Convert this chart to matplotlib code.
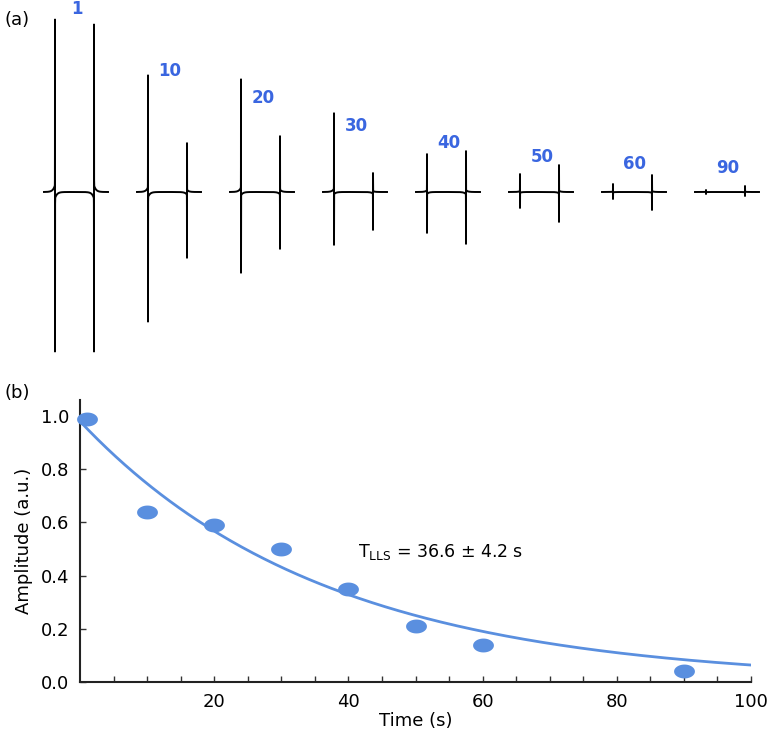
import numpy as np
import matplotlib
matplotlib.use("Agg")
import matplotlib.pyplot as plt
from matplotlib.path import Path

# (a) espectros: tempo, altura dos dois picos (sobe / desce)
tempos = [1, 10, 20, 30, 40, 50, 60, 90]
pico1_sobe = [173, 117, 113, 79, 38, 18, 8, 2]
pico1_desce = [160, 130, 81, 53, 41, 16, 7, 2]
pico2_sobe = [168, 49, 56, 19, 41, 27, 17, 6]
pico2_desce = [160, 66, 57, 38, 52, 30, 18, 4]
rotulo_altura = [183, 121, 94, 66, 49, 35, 28, 24]

# (b) amplitudes
t_pts = [1, 10, 20, 30, 40, 50, 60, 90]
amp_pts = [0.99, 0.64, 0.59, 0.50, 0.35, 0.21, 0.14, 0.04]
fit_A = 0.98
fit_T = 36.6

azul_txt = "#3a66e0"
azul = "#5a8fdf"

fig = plt.figure(figsize=(7.68, 7.34), dpi=100)

# ---- painel (a) ----
ax1 = fig.add_axes([0, 1 - 360 / 734, 1, 360 / 734])
ax1.set_xlim(-44, 724)
ax1.set_ylim(-168, 192)
ax1.axis("off")

largura = 64
espaco = 93
w = 0.03


def linha(x, x0, sobe, desce, fase):
    # pico dispersivo estreito com cauda curta
    d = x - x0
    L = -fase * np.sign(d) * (0.96 * np.exp(-np.abs(d) / w) + 0.04 * np.exp(-np.abs(d) / 2.0))
    return np.where(L > 0, sobe * L, desce * L)


for k, t in enumerate(tempos):
    x0 = k * espaco
    p1, p2 = 11, 50
    x = np.sort(np.concatenate([np.linspace(0, largura, 1281),
                                [p1 - 1e-4, p1 + 1e-4, p2 - 1e-4, p2 + 1e-4]]))
    y = linha(x, p1, pico1_sobe[k], pico1_desce[k], 1) + \
        linha(x, p2, pico2_sobe[k], pico2_desce[k], -1)
    ax1.plot(x0 + x, y, color="black", lw=1.4)
    ax1.text(x0 + 33, rotulo_altura[k], str(t), color=azul_txt,
             fontsize=12, fontweight="bold", ha="center", va="center")

fig.text(5 / 768, 1 - 20 / 734, "(a)", fontsize=13, va="center")
fig.text(4 / 768, 1 - 393 / 734, "(b)", fontsize=13, va="center")

# ---- painel (b) ----
ax2 = fig.add_axes([80 / 768, 52 / 734, 671 / 768, 282 / 734])
ax2.set_xlim(0, 100)
ax2.set_ylim(0, 1.06)

tt = np.linspace(0, 100, 300)
ax2.plot(tt, fit_A * np.exp(-tt / fit_T), color=azul, lw=2)

theta = np.linspace(0, 2 * np.pi, 60)
elipse = Path(np.column_stack([1.5 * np.cos(theta), np.sin(theta)]), closed=True)
ax2.plot(t_pts, amp_pts, linestyle="none", marker=elipse, ms=15,
         color=azul, mec="none", zorder=3, clip_on=False)

ax2.text(41.5, 0.49, r"T$_{\mathrm{LLS}}$ = 36.6 ± 4.2 s", fontsize=12.5,
         va="center")

ax2.set_xticks([20, 40, 60, 80, 100])
ax2.set_xticks(np.arange(5, 100, 5), minor=True)
ax2.set_yticks([0, 0.2, 0.4, 0.6, 0.8, 1.0])
ax2.set_yticklabels(["0.0", "0.2", "0.4", "0.6", "0.8", "1.0"])
ax2.tick_params(axis="both", which="both", direction="in", length=4,
                width=1, labelsize=13, color="#333333")
ax2.tick_params(axis="y", pad=8)
ax2.tick_params(axis="x", pad=8)
ax2.spines["top"].set_visible(False)
ax2.spines["right"].set_visible(False)
for s in ["left", "bottom"]:
    ax2.spines[s].set_linewidth(1.5)
    ax2.spines[s].set_color("#222222")

ax2.set_xlabel("Time (s)", fontsize=13, labelpad=1)
ax2.set_ylabel("Amplitude (a.u.)", fontsize=13, labelpad=5)

fig.savefig("out.png", dpi=100)
